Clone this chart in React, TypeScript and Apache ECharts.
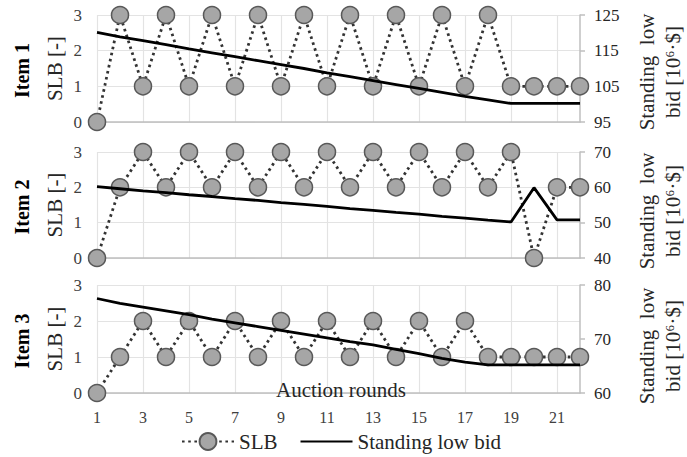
import React, { useEffect, useRef } from "react";
import * as echarts from "echarts";

const rounds = ["1", "2", "3", "4", "5", "6", "7", "8", "9", "10", "11", "12", "13", "14", "15", "16", "17", "18", "19", "20", "21", "22"];

const item1SLB = [0, 3, 1, 3, 1, 3, 1, 3, 1, 3, 1, 3, 1, 3, 1, 3, 1, 3, 1, 1, 1, 1];
const item2SLB = [0, 2, 3, 2, 3, 2, 3, 2, 3, 2, 3, 2, 3, 2, 3, 2, 3, 2, 3, 0, 2, 2];
const item3SLB = [0, 1, 2, 1, 2, 1, 2, 1, 2, 1, 2, 1, 2, 1, 2, 1, 2, 1, 1, 1, 1, 1];

const item1Bid = [120.1, 118.9, 117.8, 116.7, 115.5, 114.4, 113.3, 112.2, 111.1, 110.0, 108.8, 107.7, 106.6, 105.5, 104.4, 103.3, 102.2, 101.2, 100.2, 100.2, 100.2, 100.2];
const item2Bid = [60.2, 59.6, 59.0, 58.5, 57.9, 57.4, 56.8, 56.3, 55.7, 55.2, 54.6, 54.0, 53.5, 52.9, 52.4, 51.8, 51.3, 50.7, 50.2, 59.9, 50.8, 50.8];
const item3Bid = [77.5, 76.6, 75.9, 75.2, 74.5, 73.7, 73.0, 72.3, 71.6, 70.9, 70.2, 69.5, 68.9, 68.1, 67.3, 66.4, 65.7, 65.2, 65.2, 65.2, 65.2, 65.2];

const slbTicks = [0, 1, 2, 3];
const item1Ticks = [95, 105, 115, 125];
const item2Ticks = [40, 50, 60, 70];
const item3Ticks = [60, 70, 80];

const itemNames = ["Item 1", "Item 2", "Item 3"];
const leftTitle = "SLB [-]";
const rightTitle = "Standing  low\nbid [10\u2076\u00b7$]";
const xTitle = "Auction rounds";
const seriesNames = ["SLB", "Standing low bid"];

const FONT = "Liberation Serif";

export default function App() {
  const ref = useRef<HTMLDivElement>(null);

  useEffect(() => {
    const chart = echarts.init(ref.current!, null, { renderer: "svg" });

    const panels = [
      { top: 15, height: 107, slb: item1SLB, bid: item1Bid, ticks: item1Ticks, nameY: 72 },
      { top: 152, height: 106, slb: item2SLB, bid: item2Bid, ticks: item2Ticks, nameY: 211 },
      { top: 285, height: 108, slb: item3SLB, bid: item3Bid, ticks: item3Ticks, nameY: 346 },
    ];

    const grid: any[] = [];
    const xAxis: any[] = [];
    const yAxis: any[] = [];
    const series: any[] = [];
    const graphic: any[] = [];

    panels.forEach((p, i) => {
      grid.push({ left: 97, width: 483, top: p.top, height: p.height, containLabel: false });
      xAxis.push({
        type: "category",
        gridIndex: i,
        data: rounds,
        boundaryGap: false,
        axisLine: { show: true, lineStyle: { color: "#bfbfbf", width: 1.5 } },
        axisTick: { show: false },
        axisLabel: {
          show: i === 2,
          interval: 1,
          fontFamily: FONT,
          fontSize: 16,
          color: "#404040",
          margin: 16,
        },
        splitLine: { show: true, interval: 1, lineStyle: { color: "#e3e3e3", width: 1.2 } },
      });
      yAxis.push({
        type: "value",
        gridIndex: i,
        position: "left",
        min: slbTicks[0],
        max: slbTicks[slbTicks.length - 1],
        interval: 1,
        axisLine: { show: false },
        axisTick: { show: false },
        axisLabel: { fontFamily: FONT, fontSize: 17, color: "#404040", margin: 15 },
        splitLine: { show: true, lineStyle: { color: "#e3e3e3", width: 1.2 } },
      });
      yAxis.push({
        type: "value",
        gridIndex: i,
        position: "right",
        min: p.ticks[0],
        max: p.ticks[p.ticks.length - 1],
        interval: 10,
        axisLine: { show: true, lineStyle: { color: "#bfbfbf", width: 1.5 } },
        axisTick: { show: true, inside: false, length: 5, lineStyle: { color: "#bfbfbf", width: 1.5 }, customValues: p.ticks },
        axisLabel: { fontFamily: FONT, fontSize: 17, color: "#262626", margin: 14, customValues: p.ticks },
        splitLine: { show: false },
      });
      series.push({
        name: seriesNames[0],
        type: "line",
        xAxisIndex: i,
        yAxisIndex: i * 2,
        data: p.slb,
        symbol: "circle",
        symbolSize: 17,
        showSymbol: true,
        showAllSymbol: true,
        lineStyle: { color: "#333333", width: 2.8, type: [2.6, 3.6] },
        itemStyle: { color: "#a6a6a6", borderColor: "#595959", borderWidth: 1.5 },
        z: 2,
      });
      series.push({
        name: seriesNames[1],
        type: "line",
        xAxisIndex: i,
        yAxisIndex: i * 2 + 1,
        data: p.bid,
        symbol: "none",
        showSymbol: false,
        lineStyle: { color: "#000000", width: 2.8 },
        itemStyle: { color: "#000000" },
        z: 3,
      });
      const cy = p.top + p.height / 2;
      graphic.push({
        type: "text",
        x: 22,
        y: cy + 2,
        rotation: Math.PI / 2,
        style: {
          text: itemNames[i],
          font: `bold 20px "${FONT}"`,
          fill: "#000",
          align: "center",
          verticalAlign: "middle",
        },
      });
      graphic.push({
        type: "text",
        x: 55,
        y: cy,
        rotation: Math.PI / 2,
        style: {
          text: leftTitle,
          font: `21px "${FONT}"`,
          fill: "#262626",
          align: "center",
          verticalAlign: "middle",
        },
      });
      graphic.push({
        type: "text",
        x: 660,
        y: p.nameY,
        rotation: Math.PI / 2,
        style: {
          text: rightTitle,
          font: `21px "${FONT}"`,
          lineHeight: 26,
          fill: "#262626",
          align: "center",
          verticalAlign: "middle",
        },
      });
    });

    graphic.push({
      type: "text",
      x: 341,
      y: 390,
      style: {
        text: xTitle,
        font: `21px "${FONT}"`,
        fill: "#262626",
        align: "center",
        verticalAlign: "middle",
      },
      z: 10,
    });

    chart.setOption({
      animation: false,
      backgroundColor: "#ffffff",
      grid,
      xAxis,
      yAxis,
      series,
      graphic,
      legend: {
        data: [
          { name: seriesNames[0] },
          { name: seriesNames[1], itemStyle: { opacity: 0 } },
        ],
        left: 176,
        top: 426,
        itemWidth: 52,
        itemHeight: 21,
        itemGap: 22,
        textStyle: { fontFamily: FONT, fontSize: 21, color: "#262626" },
      },
    });

    return () => chart.dispose();
  }, []);

  return (
    <div
      ref={ref}
      style={{ position: "absolute", left: 0, top: 0, width: 687, height: 457, background: "#fff" }}
    />
  );
}
